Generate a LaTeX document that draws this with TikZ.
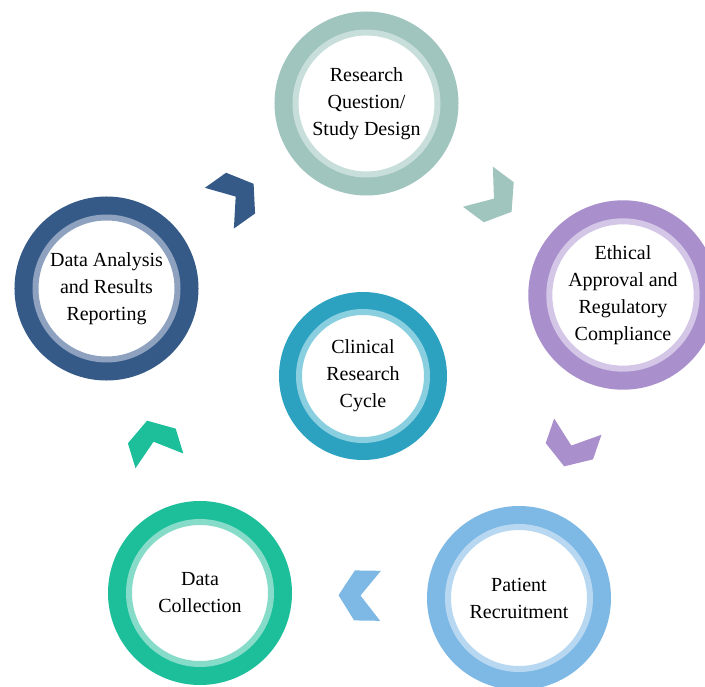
\documentclass[tikz,border=0pt]{standalone}
\usepackage{fontspec}
\setmainfont{Liberation Serif}
\usetikzlibrary{calc}
\definecolor{questiondark}{HTML}{A0C4BE}
\definecolor{questionlight}{HTML}{C8DEDA}
\definecolor{ethicsdark}{HTML}{A98FCC}
\definecolor{ethicslight}{HTML}{D3C6E6}
\definecolor{patientdark}{HTML}{7EB8E5}
\definecolor{patientlight}{HTML}{B8D8F2}
\definecolor{collectdark}{HTML}{1DBF9B}
\definecolor{collectlight}{HTML}{86DCC8}
\definecolor{analysisdark}{HTML}{355A88}
\definecolor{analysislight}{HTML}{8EA2C0}
\definecolor{cycledark}{HTML}{2CA2C0}
\definecolor{cyclelight}{HTML}{8ACFDF}
\tikzset{ring node/.style 2 args={circle,fill=white,draw=#2,line width=6pt,preaction={draw=#1,line width=42pt},minimum size=142pt,inner sep=0pt,align=center,font=\fontsize{20}{27}\selectfont},
  hub node/.style 2 args={circle,fill=white,draw=#2,line width=6pt,preaction={draw=#1,line width=40pt},minimum size=128pt,inner sep=0pt,align=center,font=\fontsize{20}{27}\selectfont},
  chevron/.pic={\fill[pic actions] (21,0) -- (5,25) -- (-21,25) -- (-1,0) -- (-21,-25) -- (5,-25) -- cycle;},}

\begin{document}
\begin{tikzpicture}[x=1pt,y=-1pt]
  \useasboundingbox (0,0) rectangle (705,687);
  \clip (0,0) rectangle (705,687);
  %% Nodes
  \node[ring node={questiondark}{questionlight}] (question) at (366.5,103.5) {Research\\Question/\\Study Design};
  \node[ring node={ethicsdark}{ethicslight}] (ethics) at (623,295) {Ethical\\Approval and\\Regulatory\\Compliance};
  \node[ring node={patientdark}{patientlight}] (patient) at (519,598) {Patient\\Recruitment};
  \node[ring node={collectdark}{collectlight}] (collect) at (200,593) {Data\\Collection};
  \node[ring node={analysisdark}{analysislight}] (analysis) at (106.5,288.5) {Data Analysis\\and Results\\Reporting};
  \node[hub node={cycledark}{cyclelight}] (cycle) at (363,376) {Clinical\\Research\\Cycle};
  %% Paths
  \foreach \from/\to/\col in {question/ethics/questiondark, ethics/patient/ethicsdark, patient/collect/patientdark, collect/analysis/collectdark, analysis/question/analysisdark}
    \path let \p1=($(\to.center)-(\from.center)$), \n1={atan2(\y1,\x1)} in
      pic[fill=\col,rotate=\n1] at ($(\from.center)!0.5!(\to.center)$) {chevron};
\end{tikzpicture}
\end{document}
